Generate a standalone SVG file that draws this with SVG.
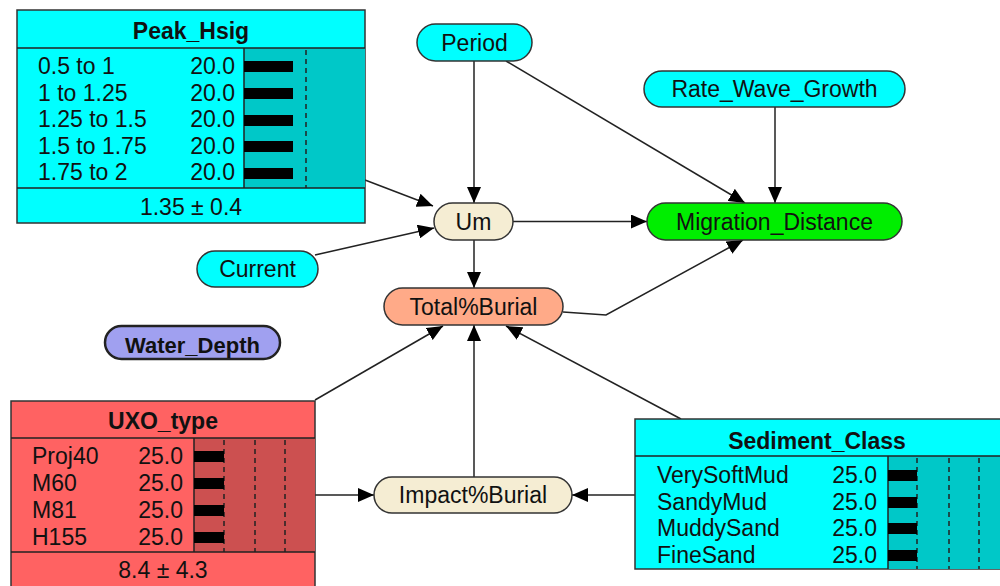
<svg xmlns="http://www.w3.org/2000/svg" width="1000" height="586" viewBox="0 0 1000 586">
<style>
text{font-family:"Liberation Sans",Arial,sans-serif;font-size:23px;fill:#111}
.t{font-weight:bold;text-anchor:middle}
.c{text-anchor:middle}
.e{text-anchor:end}
.box{stroke:#333;stroke-width:1.5}
.ln{stroke:#222;stroke-width:1.5;fill:none}
.dash{stroke:#222;stroke-width:1.5;stroke-dasharray:5,4}
.bar{fill:#000}
.pill{stroke:#333;stroke-width:1.5}
.edge{stroke:#222;stroke-width:1.5;fill:none;marker-end:url(#ah)}
</style>
<defs>
<marker id="ah" markerUnits="userSpaceOnUse" markerWidth="16" markerHeight="14" viewBox="0 0 16 14" refX="16" refY="7" orient="auto">
<path d="M0,0 L16,7 L0,14 z" fill="#000"/>
</marker>
</defs>
<rect width="1000" height="586" fill="#fff"/>

<g id="connectors">
<path class="edge" d="M474,61 L474,203"/>
<path class="edge" d="M506,61 L745,203"/>
<path class="edge" d="M775,107 L775,203"/>
<path class="edge" d="M513,221.5 L647,221.5"/>
<path class="edge" d="M365,180 L433,206"/>
<path class="edge" d="M315,255 L434,228"/>
<path class="edge" d="M474,240 L474,288"/>
<path class="edge" d="M563,312 L606,315 L743,240"/>
<path class="edge" d="M315,400 L443,326"/>
<path class="edge" d="M474,477 L474,325"/>
<path class="edge" d="M681,419 L506,326"/>
<path class="edge" d="M315,495 L374,495"/>
<path class="edge" d="M635,495 L572,495"/>
</g>

<g id="Peak_Hsig">
<rect class="box" x="17" y="10" width="348" height="213" fill="#00FFFF"/>
<rect x="244" y="48" width="121" height="140" fill="#00C8C8"/>
<line class="ln" x1="17" y1="48" x2="365" y2="48"/>
<line class="ln" x1="17" y1="188" x2="365" y2="188"/>
<line class="ln" x1="244" y1="48" x2="244" y2="188"/>
<line class="dash" x1="306" y1="50" x2="306" y2="188"/>
<text class="t" x="191" y="39">Peak_Hsig</text>
<text x="38" y="74">0.5 to 1</text><text class="e" x="235" y="74">20.0</text>
<text x="38" y="100.5">1 to 1.25</text><text class="e" x="235" y="100.5">20.0</text>
<text x="38" y="127">1.25 to 1.5</text><text class="e" x="235" y="127">20.0</text>
<text x="38" y="153.5">1.5 to 1.75</text><text class="e" x="235" y="153.5">20.0</text>
<text x="38" y="180">1.75 to 2</text><text class="e" x="235" y="180">20.0</text>
<rect class="bar" x="244" y="61" width="49" height="11"/>
<rect class="bar" x="244" y="88" width="49" height="11"/>
<rect class="bar" x="244" y="115" width="49" height="11"/>
<rect class="bar" x="244" y="141" width="49" height="11"/>
<rect class="bar" x="244" y="168" width="49" height="11"/>
<text class="c" x="191" y="215">1.35 ± 0.4</text>
</g>

<g id="Period">
<rect class="pill" x="417" y="24" width="115" height="37" rx="18.5" fill="#00FFFF"/>
<text class="c" x="474.5" y="50.5">Period</text>
</g>

<g id="Rate_Wave_Growth">
<rect class="pill" x="644" y="71" width="261" height="36" rx="18" fill="#00FFFF"/>
<text class="c" x="774.5" y="97">Rate_Wave_Growth</text>
</g>

<g id="Um">
<rect class="pill" x="434" y="203" width="79" height="37" rx="18.5" fill="#F5EDD3"/>
<text class="c" x="473.5" y="229.5">Um</text>
</g>

<g id="Migration_Distance">
<rect class="pill" x="647" y="203" width="255" height="37" rx="18.5" fill="#00EE00"/>
<text class="c" x="774.5" y="229.5">Migration_Distance</text>
</g>

<g id="Current">
<rect class="pill" x="197" y="251" width="121" height="36" rx="18" fill="#00FFFF"/>
<text class="c" x="257.5" y="277">Current</text>
</g>

<g id="Total_Burial">
<rect class="pill" x="384" y="288" width="179" height="37" rx="18.5" fill="#FFAA88"/>
<text class="c" x="473.5" y="314.5">Total%Burial</text>
</g>

<g id="Water_Depth">
<rect x="105" y="326" width="175" height="33" rx="16.5" fill="#A0A0F0" stroke="#222" stroke-width="2.5"/>
<text class="t" x="192.5" y="353" style="font-size:22px">Water_Depth</text>
</g>

<g id="Impact_Burial">
<rect class="pill" x="374" y="477" width="198" height="36" rx="18" fill="#F5EDD3"/>
<text class="c" x="473" y="503">Impact%Burial</text>
</g>

<g id="UXO_type">
<rect class="box" x="11" y="401" width="304" height="200" fill="#FF6262"/>
<rect x="194" y="438" width="121" height="114" fill="#CC5050"/>
<line class="ln" x1="11" y1="438" x2="315" y2="438"/>
<line class="ln" x1="11" y1="552" x2="315" y2="552"/>
<line class="ln" x1="194" y1="438" x2="194" y2="552"/>
<line class="dash" x1="224" y1="440" x2="224" y2="552"/>
<line class="dash" x1="255" y1="440" x2="255" y2="552"/>
<line class="dash" x1="285" y1="440" x2="285" y2="552"/>
<text class="t" x="163" y="429">UXO_type</text>
<text x="32" y="463.5">Proj40</text><text class="e" x="183" y="463.5">25.0</text>
<text x="32" y="491">M60</text><text class="e" x="183" y="491">25.0</text>
<text x="32" y="517.5">M81</text><text class="e" x="183" y="517.5">25.0</text>
<text x="32" y="544.5">H155</text><text class="e" x="183" y="544.5">25.0</text>
<rect class="bar" x="194" y="451" width="30" height="11"/>
<rect class="bar" x="194" y="478" width="30" height="11"/>
<rect class="bar" x="194" y="505" width="30" height="11"/>
<rect class="bar" x="194" y="532" width="30" height="11"/>
<text class="c" x="163" y="578">8.4 ± 4.3</text>
</g>

<g id="Sediment_Class">
<rect class="box" x="635" y="419" width="380" height="150" fill="#00FFFF"/>
<rect x="888" y="456" width="127" height="113" fill="#00C8C8"/>
<line class="ln" x1="635" y1="456" x2="1015" y2="456"/>
<line class="ln" x1="888" y1="456" x2="888" y2="569"/>
<line class="dash" x1="917" y1="458" x2="917" y2="569"/>
<line class="dash" x1="949" y1="458" x2="949" y2="569"/>
<line class="dash" x1="979" y1="458" x2="979" y2="569"/>
<text class="t" x="817" y="449">Sediment_Class</text>
<text x="657" y="482.5">VerySoftMud</text><text class="e" x="877" y="482.5">25.0</text>
<text x="657" y="509.5">SandyMud</text><text class="e" x="877" y="509.5">25.0</text>
<text x="657" y="536">MuddySand</text><text class="e" x="877" y="536">25.0</text>
<text x="657" y="563">FineSand</text><text class="e" x="877" y="563">25.0</text>
<rect class="bar" x="888" y="470" width="29" height="11"/>
<rect class="bar" x="888" y="497" width="29" height="11"/>
<rect class="bar" x="888" y="523" width="29" height="11"/>
<rect class="bar" x="888" y="550" width="29" height="11"/>
</g>
</svg>
